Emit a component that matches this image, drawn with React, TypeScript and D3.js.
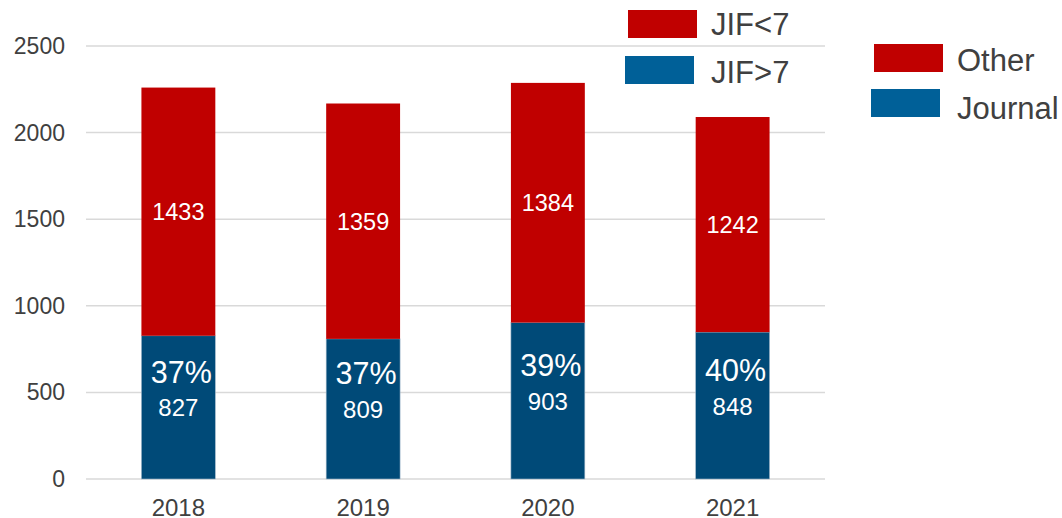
import React from "react";
import * as d3 from "d3";

const years = ["2018", "2019", "2020", "2021"];
const journal = [827, 809, 903, 848];
const other = [1433, 1359, 1384, 1242];
const pctLabels = ["37%", "37%", "39%", "40%"];
const yTicks = [0, 500, 1000, 1500, 2000, 2500];

const RED = "#c00000";
const BLUE_BAR = "#004a78";
const BLUE_LEG = "#006098";
const TEXT = "#404040";
const FONT = "Liberation Sans, Arial, sans-serif";

export default function App() {
  const W = 1062, H = 518;
  const x = d3.scaleBand().domain(years).range([86, 825]).paddingInner(0.6).paddingOuter(0.3);
  const y = d3.scaleLinear().domain([0, 2500]).range([479, 46]);
  const bw = x.bandwidth();

  return (
    <svg width={W} height={H} style={{ position: "absolute", left: 0, top: 0, fontFamily: FONT }}>
      {yTicks.map((t) => (
        <g key={t}>
          <line x1={86} x2={825} y1={y(t)} y2={y(t)} stroke="#d9d9d9" strokeWidth={1.5} />
          <text x={65} y={y(t) + 8} textAnchor="end" fontSize={23} fill={TEXT}>{t}</text>
        </g>
      ))}
      {years.map((yr, i) => {
        const x0 = x(yr)!;
        const cx = x0 + bw / 2;
        const j = journal[i], o = other[i];
        return (
          <g key={yr}>
            <rect x={x0} y={y(j)} width={bw} height={y(0) - y(j)} fill={BLUE_BAR} stroke="#9fb6c9" strokeWidth={0.6} />
            <rect x={x0} y={y(j + o)} width={bw} height={y(j) - y(j + o)} fill={RED} />
            <text x={cx} y={(y(j) + y(j + o)) / 2 + 8.5} textAnchor="middle" fontSize={23.5} fill="#fff">{o}</text>
            <text x={cx} y={(y(0) + y(j)) / 2 + 9} textAnchor="middle" fontSize={24} fill="#fff">{j}</text>
            <text x={cx + 3} y={(y(0) + y(j)) / 2 - 24.5} textAnchor="middle" fontSize={30.5} fill="#fff">{pctLabels[i]}</text>
            <text x={cx} y={516} textAnchor="middle" fontSize={24} fill={TEXT}>{yr}</text>
          </g>
        );
      })}
      <rect x={628} y={10} width={69} height={28} fill={RED} />
      <text x={711} y={35} fontSize={31} fill={TEXT}>JIF&lt;7</text>
      <rect x={625} y={56} width={69} height={28} fill={BLUE_LEG} />
      <text x={711} y={83} fontSize={31} fill={TEXT}>JIF&gt;7</text>
      <rect x={874} y={44} width={69} height={28} fill={RED} />
      <text x={957} y={71} fontSize={31} fill={TEXT}>Other</text>
      <rect x={871} y={89} width={69} height={28} fill={BLUE_LEG} />
      <text x={957} y={119} fontSize={31} fill={TEXT}>Journal</text>
    </svg>
  );
}
